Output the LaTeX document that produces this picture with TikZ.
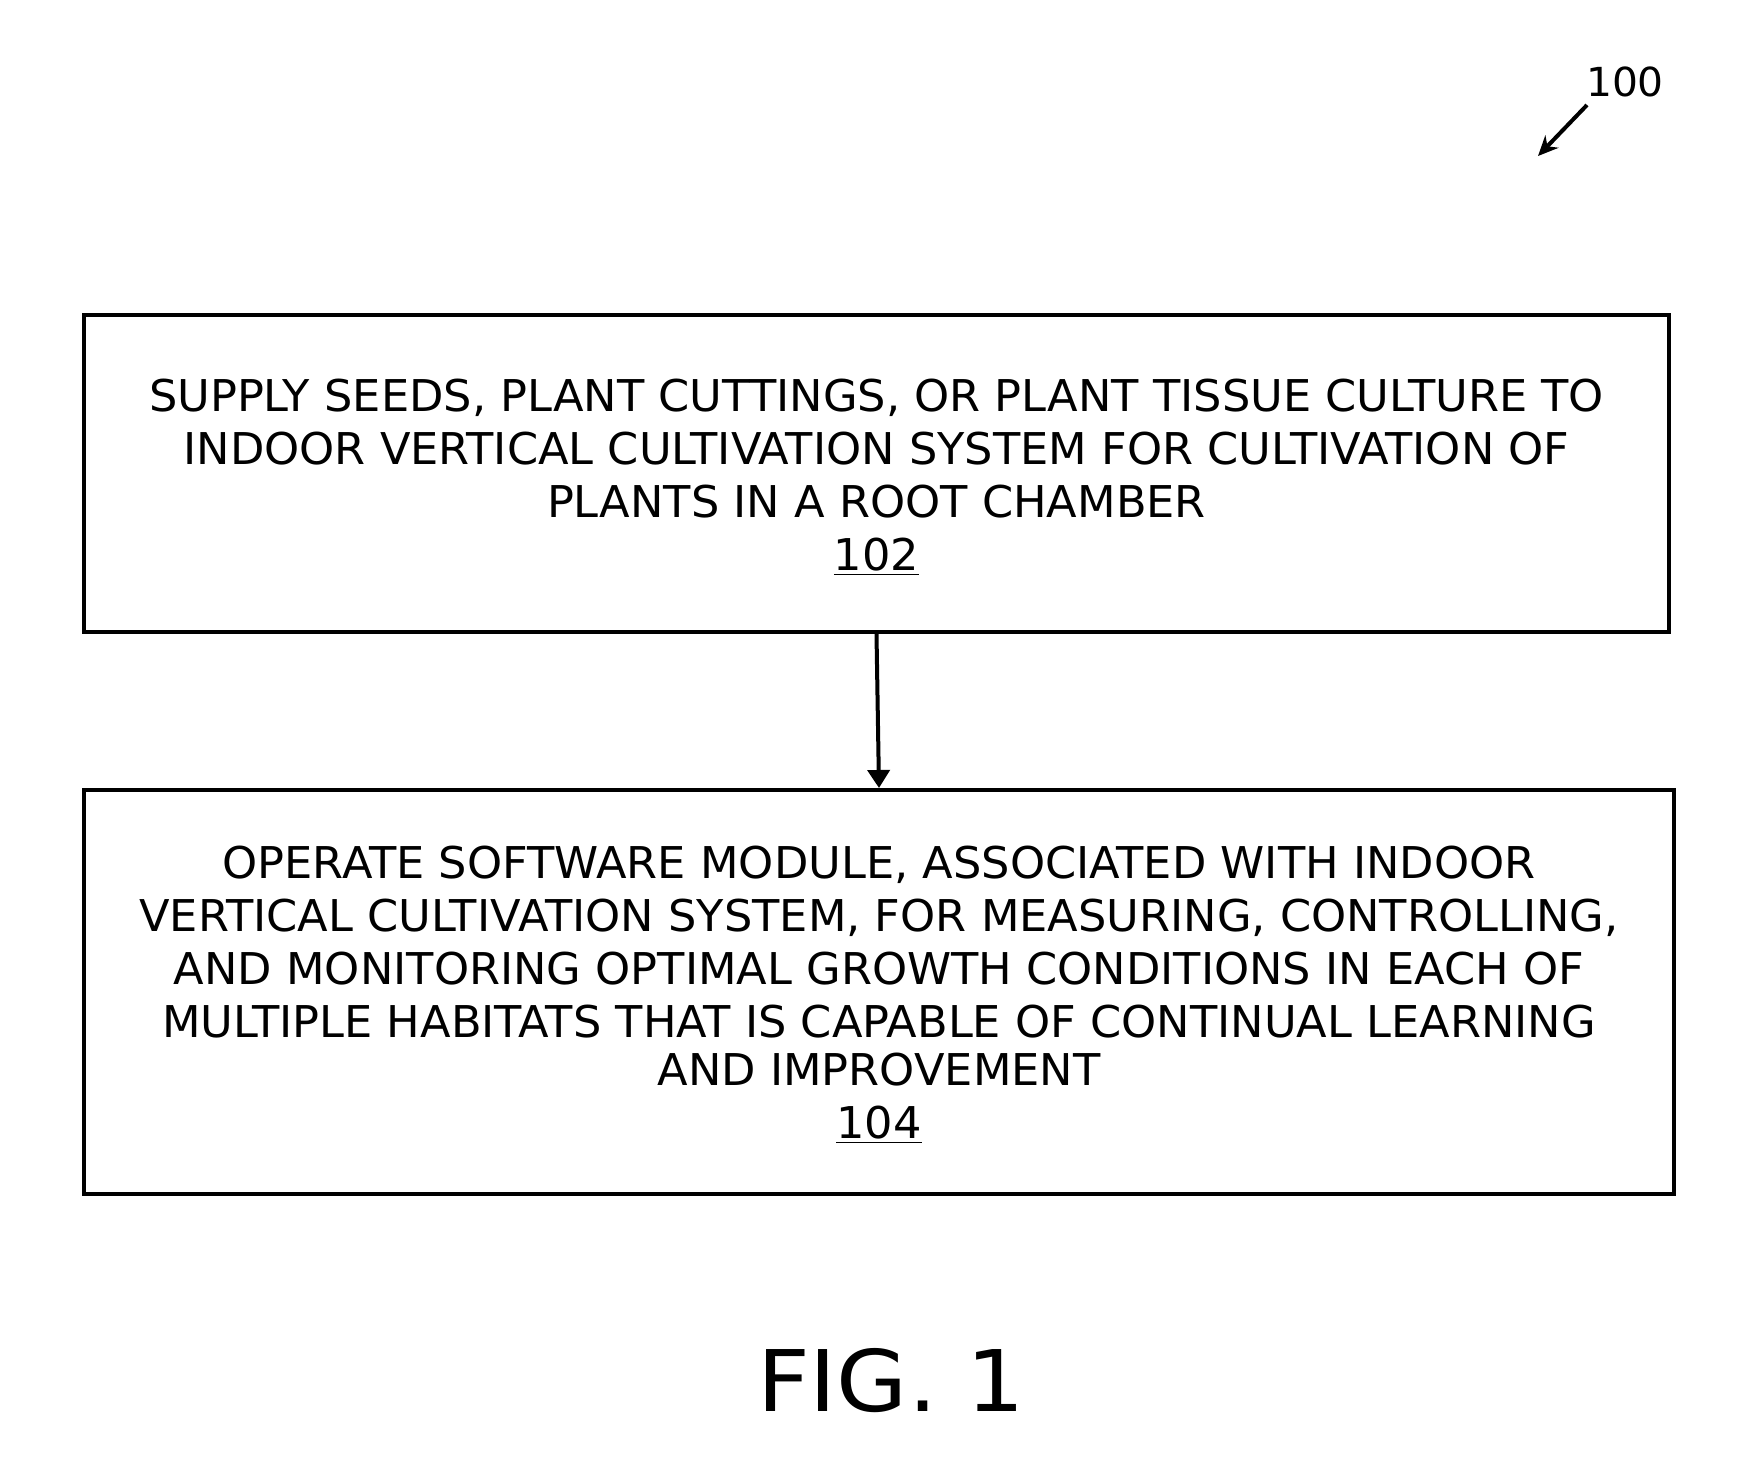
\documentclass[tikz,border=0pt]{standalone}
\usepackage{fontspec}
\setmainfont{DejaVu Sans}
\newfontfamily\bodyfont[FakeStretch=1.02]{DejaVu Sans}
\newfontfamily\figfont[FakeStretch=1.08]{DejaVu Sans}
\usetikzlibrary{arrows.meta}
\begin{document}
\begin{tikzpicture}[x=0.5pt,y=-0.5pt,
  stepbox/.style={draw,line width=2pt,rectangle,inner sep=0pt},
  steptext/.style={align=center,inner sep=0pt,
    font=\bodyfont\fontsize{21.9}{26.5}\selectfont},
  flow/.style={line width=2pt,-{Triangle[width=11pt,length=9pt]}}]
\useasboundingbox (0,0) rectangle (1763,1479);
\node[stepbox,minimum width=792.5pt,minimum height=158.5pt] (b1) at (876.5,473.5) {};
\node[steptext] (t1) at ([yshift=-2pt]b1.center)
  {SUPPLY SEEDS, PLANT CUTTINGS, OR PLANT TISSUE CULTURE TO\\
   INDOOR VERTICAL CULTIVATION SYSTEM FOR CULTIVATION OF\\
   PLANTS IN A ROOT CHAMBER\\
   \underline{102}};
\node[stepbox,minimum width=795pt,minimum height=202pt] (b2) at (879,992) {};
\node[steptext] (t2) at ([yshift=-1.5pt]b2.center)
  {OPERATE SOFTWARE MODULE, ASSOCIATED WITH INDOOR\\
   VERTICAL CULTIVATION SYSTEM, FOR MEASURING, CONTROLLING,\\
   AND MONITORING OPTIMAL GROWTH CONDITIONS IN EACH OF\\
   MULTIPLE HABITATS THAT IS CAPABLE OF CONTINUAL LEARNING\\[-2.5pt]
   AND IMPROVEMENT\\
   \underline{104}};
\draw[flow] (b1.south) -- (b2.north);
\node[font=\bodyfont\fontsize{20}{24}\selectfont,inner sep=0pt] (ref) at (1625,82) {100};
\coordinate (reftip) at (1538,156);
\draw[line width=2pt,-{Stealth[width=9pt,length=10pt]}] (1587,105) -- (reftip);
\node[font=\figfont\fontsize{42.5}{50}\selectfont,inner sep=0pt] (fig) at (891,1381) {FIG. 1};
\end{tikzpicture}
\end{document}
